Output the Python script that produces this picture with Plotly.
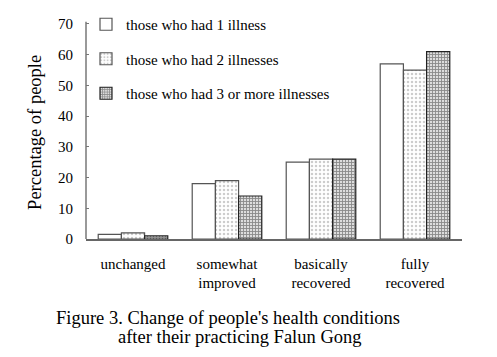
import plotly.graph_objects as go

categories = ["unchanged", "somewhat<br>improved", "basically<br>recovered", "fully<br>recovered"]
series_names = ["those who had 1 illness", "those who had 2 illnesses", "those who had 3 or more illnesses"]
one_illness = [1.5, 18, 25, 57]
two_illnesses = [2, 19, 26, 55]
three_more = [1, 14, 26, 61]
y_ticks = [0, 10, 20, 30, 40, 50, 60, 70]

font_family = "Liberation Serif, Times New Roman, serif"

fig = go.Figure()
styles = [
    dict(color="white", line=dict(color="#555", width=1.2), pattern=dict(shape="")),
    dict(color="white", line=dict(color="#555", width=1.2),
         pattern=dict(shape=".", fgcolor="#999", size=4, solidity=0.3)),
    dict(color="#ddd", line=dict(color="#222", width=1.2),
         pattern=dict(shape="+", fgcolor="#333", size=3, solidity=0.5)),
]
for name, vals, st, g in zip(series_names, [one_illness, two_illnesses, three_more], styles, ["a", "b", "c"]):
    fig.add_trace(go.Bar(x=categories, y=vals, name=name, marker=st, legendgroup=g))

# vertical axis line drawn up to the top tick only
fig.add_shape(type="line", xref="paper", yref="y", x0=0, x1=0, y0=0, y1=y_ticks[-1] + 0.7,
              line=dict(color="#777", width=1.5))

fig.update_layout(
    width=497, height=357,
    margin=dict(l=78, r=43, t=0, b=126),
    paper_bgcolor="white", plot_bgcolor="white",
    barmode="group", bargap=0.26, bargroupgap=0,
    font=dict(family=font_family, size=15, color="black"),
    showlegend=True,
    legend=dict(x=0.0, y=1.0, xanchor="left", yanchor="top",
                font=dict(size=15), tracegroupgap=12, itemwidth=30,
                bgcolor="rgba(0,0,0,0)"),
    xaxis=dict(showline=True, linecolor="#666", linewidth=1.5, ticks="",
               tickfont=dict(size=15), showgrid=False, ticklabelstandoff=10),
    yaxis=dict(range=[0, 75.2], tickvals=y_ticks, showline=False,
               ticks="inside", ticklen=3, tickcolor="#777", showgrid=False,
               ticklabelstandoff=12, tickfont=dict(size=15)),
    annotations=[
        dict(text="Percentage of people", textangle=-90,
             xref="paper", yref="paper", x=-0.136, y=0.463, xanchor="center", yanchor="middle",
             showarrow=False, font=dict(size=18.5)),
        dict(text="Figure 3. Change of people's health conditions",
             xref="paper", yref="paper", x=0.378, y=-0.342, xanchor="center", yanchor="middle",
             showarrow=False, font=dict(size=18.5)),
        dict(text="after their practicing Falun Gong",
             xref="paper", yref="paper", x=0.41, y=-0.424, xanchor="center", yanchor="middle",
             showarrow=False, font=dict(size=18.5)),
    ],
)

fig.write_html("out.html")
